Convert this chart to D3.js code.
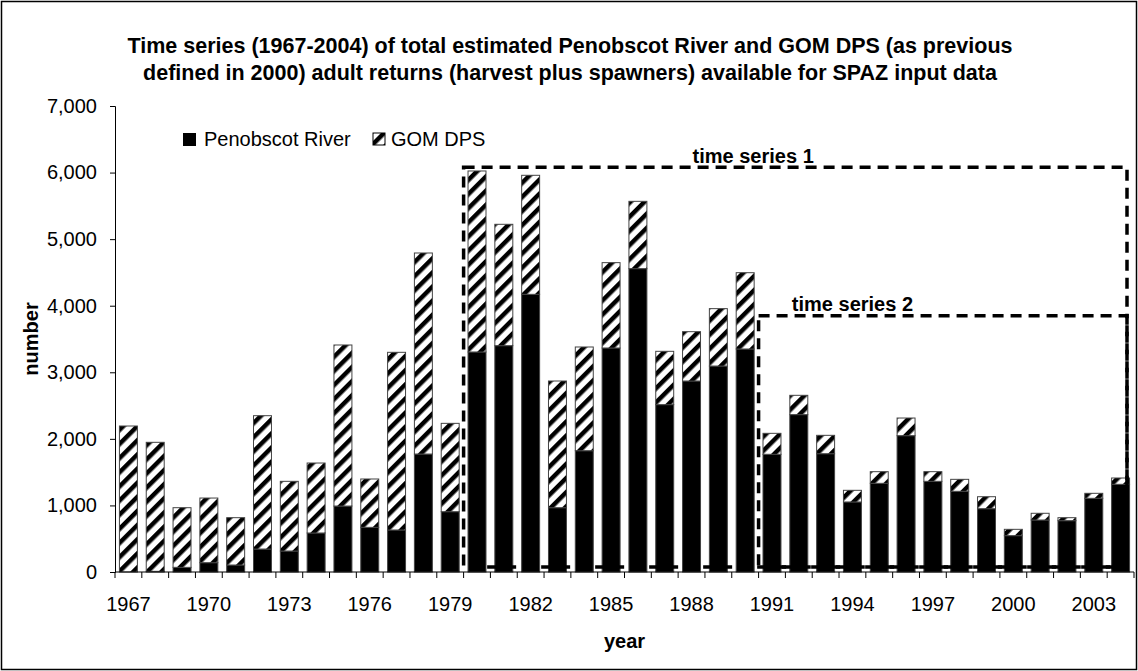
<!DOCTYPE html>
<html>
<head>
<meta charset="utf-8">
<script src="https://cdn.jsdelivr.net/npm/d3@7"></script>
<style>
  body { margin: 0; background: #fff; }
  svg { display: block; font-family: "Liberation Sans", Arial, sans-serif; }
</style>
</head>
<body>
<script>
// years on the x axis
const years = [1967, 1968, 1969, 1970, 1971, 1972, 1973, 1974, 1975, 1976,
  1977, 1978, 1979, 1980, 1981, 1982, 1983, 1984, 1985, 1986,
  1987, 1988, 1989, 1990, 1991, 1992, 1993, 1994, 1995, 1996,
  1997, 1998, 1999, 2000, 2001, 2002, 2003, 2004];
// adult returns, Penobscot River (solid)
const penobscot = [0, 10, 70, 140, 105, 345, 315, 586, 991, 671,
  631, 1772, 906, 3305, 3400, 4171, 966, 1822, 3365, 4557,
  2514, 2869, 3094, 3350, 1768, 2364, 1777, 1052, 1332, 2048,
  1362, 1212, 951, 546, 781, 771, 1107, 1317];
// adult returns, rest of GOM DPS (hatched, stacked on top)
const gomDps = [2193, 1938, 896, 971, 711, 2003, 1047, 1051, 2419, 726,
  2669, 3020, 1327, 2719, 1823, 1788, 1903, 1558, 1282, 1011,
  801, 741, 862, 1146, 315, 290, 276, 175, 175, 265,
  145, 180, 180, 95, 101, 45, 75, 95];
const yTicks = [0, 1000, 2000, 3000, 4000, 5000, 6000, 7000];
const xLabelYears = [1967, 1970, 1973, 1976, 1979, 1982, 1985, 1988, 1991, 1994, 1997, 2000, 2003];
// dashed boxes marking the two SPAZ time series
const boxNames = ["time series 1", "time series 2"];
const boxFrom = [1980, 1991];
const boxTop = [6080, 3850];
const boxBottom = 75;

const W = 1138, H = 671;
const margin = {top: 106, right: 4, bottom: 99, left: 115};

const svg = d3.select('body').append('svg')
  .attr('width', W).attr('height', H);

// hatch pattern
const defs = svg.append('defs');
defs.append('pattern')
  .attr('id', 'hatch')
  .attr('patternUnits', 'userSpaceOnUse')
  .attr('width', 10).attr('height', 10)
  .attr('patternTransform', 'rotate(45)')
  .call(p => {
    p.append('rect').attr('width', 10).attr('height', 10).attr('fill', '#fff');
    p.append('rect').attr('x', 0).attr('width', 4.5).attr('height', 10).attr('fill', '#000');
  });

// outer border
svg.append('rect')
  .attr('x', 1.5).attr('y', 1.5)
  .attr('width', W - 3).attr('height', H - 3)
  .attr('fill', 'none').attr('stroke', '#000').attr('stroke-width', 1.5);

// title
svg.append('text')
  .attr('x', 570).attr('y', 53)
  .attr('text-anchor', 'middle')
  .attr('font-size', 21.5).attr('font-weight', 'bold')
  .text('Time series (1967-2004) of total estimated Penobscot River and GOM DPS (as previous');
svg.append('text')
  .attr('x', 570).attr('y', 80)
  .attr('text-anchor', 'middle')
  .attr('font-size', 21.5).attr('font-weight', 'bold')
  .text('defined in 2000) adult returns (harvest plus spawners) available for SPAZ input data');

const innerW = W - margin.left - margin.right;
const innerH = H - margin.top - margin.bottom;
const g = svg.append('g').attr('transform', `translate(${margin.left},${margin.top})`);

const x = d3.scaleBand().domain(years).range([0, innerW]).paddingInner(0.33).paddingOuter(0.165);
const y = d3.scaleLinear().domain([0, 7000]).range([innerH, 0]);

const rows = years.map((yr, i) => ({year: yr, penobscot: penobscot[i], gom: gomDps[i]}));
const stack = d3.stack().keys(['penobscot', 'gom'])(rows);
const fills = {penobscot: '#000', gom: 'url(#hatch)'};

g.selectAll('g.layer')
  .data(stack)
  .join('g')
  .attr('class', 'layer')
  .attr('fill', d => fills[d.key])
  .selectAll('rect')
  .data(d => d.filter(s => s[1] - s[0] > 0))
  .join('rect')
  .attr('x', d => x(d.data.year))
  .attr('width', x.bandwidth())
  .attr('y', d => y(d[1]))
  .attr('height', d => y(d[0]) - y(d[1]))
  .attr('stroke', '#444')
  .attr('stroke-width', 1);

// y axis
const yAxis = g.append('g')
  .call(d3.axisLeft(y).tickValues(yTicks).tickFormat(d3.format(',')).tickSize(5).tickPadding(13));
yAxis.select('.domain').attr('stroke', '#000');
yAxis.selectAll('text').attr('font-size', 20).attr('fill', '#000').attr('font-family', 'Liberation Sans, Arial, sans-serif');

// x axis: ticks between categories, labels every 3 years
const step = x.step();
const xAxis = g.append('g').attr('transform', `translate(0,${innerH})`);
xAxis.append('line')
  .attr('x1', 0).attr('x2', innerW)
  .attr('stroke', '#000');
xAxis.selectAll('line.tk')
  .data(d3.range(years.length + 1))
  .join('line')
  .attr('class', 'tk')
  .attr('x1', i => i * step).attr('x2', i => i * step)
  .attr('y1', 0).attr('y2', 6)
  .attr('stroke', '#000');
xAxis.selectAll('text')
  .data(xLabelYears)
  .join('text')
  .attr('x', d => x(d) + x.bandwidth() / 2)
  .attr('y', 39)
  .attr('text-anchor', 'middle')
  .attr('font-size', 20)
  .text(d => d);

// axis titles
svg.append('text')
  .attr('transform', `translate(38,${margin.top + innerH / 2}) rotate(-90)`)
  .attr('text-anchor', 'middle')
  .attr('font-size', 20).attr('font-weight', 'bold')
  .text('number');
svg.append('text')
  .attr('x', margin.left + innerW / 2).attr('y', 648)
  .attr('text-anchor', 'middle')
  .attr('font-size', 20).attr('font-weight', 'bold')
  .text('year');

// dashed time series boxes
const boxRight = innerW - 7;
boxNames.forEach((name, i) => {
  const left = x(boxFrom[i]) - x.step() * x.paddingInner() / 2;
  g.append('rect')
    .attr('x', left).attr('y', y(boxTop[i]))
    .attr('width', boxRight - left)
    .attr('height', y(boxBottom) - y(boxTop[i]))
    .attr('fill', 'none')
    .attr('stroke', '#000').attr('stroke-width', 3.5)
    .attr('stroke-dasharray', '11,7');
});
g.append('text')
  .attr('x', x(1990) + x.bandwidth() / 2 + 8).attr('y', y(boxTop[0]) - 4)
  .attr('text-anchor', 'middle')
  .attr('font-size', 20).attr('font-weight', 'bold')
  .text(boxNames[0]);
g.append('text')
  .attr('x', x(1994) + x.bandwidth() / 2).attr('y', y(boxTop[1]) - 5)
  .attr('text-anchor', 'middle')
  .attr('font-size', 20).attr('font-weight', 'bold')
  .text(boxNames[1]);

// legend
const legend = svg.append('g').attr('transform', 'translate(183,133)');
legend.append('rect').attr('width', 13).attr('height', 13).attr('fill', '#000');
legend.append('text').attr('x', 21).attr('y', 13).attr('font-size', 20).text('Penobscot River');
legend.append('rect').attr('x', 190).attr('width', 12).attr('height', 12)
  .attr('fill', 'url(#hatch)').attr('stroke', '#000').attr('stroke-width', 1);
legend.append('text').attr('x', 208).attr('y', 13).attr('font-size', 20).text('GOM DPS');
</script>
</body>
</html>
